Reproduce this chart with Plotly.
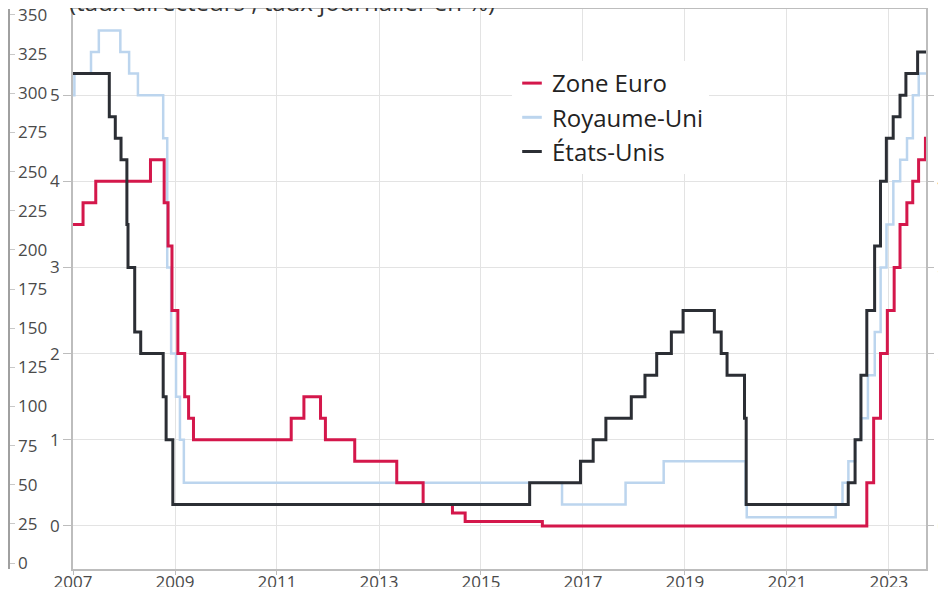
import plotly.graph_objects as go

# taux directeurs (en %), dates de changement
euro_dates = ["2007-01-01", "2007-03-14", "2007-06-13", "2008-07-09", "2008-10-15",
              "2008-11-12", "2008-12-10", "2009-01-21", "2009-03-11", "2009-04-08",
              "2009-05-13", "2011-04-13", "2011-07-13", "2011-11-09", "2011-12-14",
              "2012-07-11", "2013-05-08", "2013-11-13", "2014-06-11", "2014-09-10",
              "2016-03-16", "2022-07-27", "2022-09-14", "2022-11-02", "2022-12-21",
              "2023-02-08", "2023-03-22", "2023-05-10", "2023-06-21", "2023-08-02",
              "2023-09-20", "2023-09-24"]
euro_rate = [3.50, 3.75, 4.00, 4.25, 3.75, 3.25, 2.50, 2.00, 1.50, 1.25,
             1.00, 1.25, 1.50, 1.25, 1.00, 0.75, 0.50, 0.25, 0.15, 0.05,
             0.00, 0.50, 1.25, 2.00, 2.50, 3.00, 3.50, 3.75, 4.00, 4.25,
             4.50, 4.50]

uk_dates = ["2007-01-01", "2007-01-11", "2007-05-10", "2007-07-05", "2007-12-06",
            "2008-02-07", "2008-04-10", "2008-10-08", "2008-11-06", "2008-12-04",
            "2009-01-08", "2009-02-05", "2009-03-05", "2016-08-04", "2017-11-02",
            "2018-08-02", "2020-03-11", "2020-03-19", "2021-12-16", "2022-02-03",
            "2022-03-17", "2022-05-05", "2022-06-16", "2022-08-04", "2022-09-22",
            "2022-11-03", "2022-12-15", "2023-02-02", "2023-03-23", "2023-05-11",
            "2023-06-22", "2023-08-03", "2023-09-24"]
uk_rate = [5.00, 5.25, 5.50, 5.75, 5.50, 5.25, 5.00, 4.50, 3.00, 2.00,
           1.50, 1.00, 0.50, 0.25, 0.50, 0.75, 0.25, 0.10, 0.25, 0.50,
           0.75, 1.00, 1.25, 1.75, 2.25, 3.00, 3.50, 4.00, 4.25, 4.50,
           5.00, 5.25, 5.25]

us_dates = ["2007-01-01", "2007-09-18", "2007-10-31", "2007-12-11", "2008-01-22",
            "2008-01-30", "2008-03-18", "2008-04-30", "2008-10-08", "2008-10-29",
            "2008-12-16", "2015-12-16", "2016-12-14", "2017-03-15", "2017-06-14",
            "2017-12-13", "2018-03-21", "2018-06-13", "2018-09-26", "2018-12-19",
            "2019-07-31", "2019-09-18", "2019-10-30", "2020-03-03", "2020-03-15",
            "2022-03-16", "2022-05-04", "2022-06-15", "2022-07-27", "2022-09-21",
            "2022-11-02", "2022-12-14", "2023-02-01", "2023-03-22", "2023-05-03",
            "2023-07-26", "2023-09-24"]
us_rate = [5.25, 4.75, 4.50, 4.25, 3.50, 3.00, 2.25, 2.00, 1.50, 1.00,
           0.25, 0.50, 0.75, 1.00, 1.25, 1.50, 1.75, 2.00, 2.25, 2.50,
           2.25, 2.00, 1.75, 1.25, 0.25, 0.50, 1.00, 1.75, 2.50, 3.25,
           4.00, 4.50, 4.75, 5.00, 5.25, 5.50, 5.50]

left_ticks = [0, 25, 50, 75, 100, 125, 150, 175, 200, 225, 250, 275, 300, 325, 350]
rate_ticks = [0, 1, 2, 3, 4, 5]

RED = "#d4174b"
BLUE = "#bcd5ee"
DARK = "#2b2e34"
FONT = "Open Sans"
OFF = 8  # marge du body de la page html
W, H = 946 - OFF, 595 - 2 * OFF  # pas de barres de défilement

fig = go.Figure()
# dessin : RU dessous, puis zone euro, puis USA dessus
fig.add_trace(go.Scatter(x=uk_dates, y=uk_rate, mode="lines", line_shape="hv",
                         line=dict(color=BLUE, width=2.5), showlegend=False, hoverinfo="skip"))
fig.add_trace(go.Scatter(x=euro_dates, y=euro_rate, mode="lines", line_shape="hv",
                         line=dict(color=RED, width=3), showlegend=False, hoverinfo="skip"))
fig.add_trace(go.Scatter(x=us_dates, y=us_rate, mode="lines", line_shape="hv",
                         line=dict(color=DARK, width=3), showlegend=False, hoverinfo="skip"))

# entrées de légende (tiret court)
for name, col in [("Zone Euro", RED), ("Royaume-Uni", BLUE), ("États-Unis", DARK)]:
    fig.add_trace(go.Scatter(x=[None], y=[None], mode="markers", name=name,
                             legendgroup=name,
                             marker=dict(symbol="line-ew", size=14,
                                         line=dict(color=col, width=3))))

# axes secondaires : droite (0-5) et fantôme de gauche (0-350)
fig.add_trace(go.Scatter(x=[None], y=[None], yaxis="y2", showlegend=False))
fig.add_trace(go.Scatter(x=[None], y=[None], yaxis="y3", showlegend=False))

x0, x1 = (73 - OFF) / W, (926 - OFF) / W
top = 9 - OFF
plot_h = 560
grid = "#e3e3e3"
frame = "#bdbdbd"
tickfont = dict(family=FONT, size=17, color="#4a4a4a")

fig.update_layout(
    width=W, height=H,
    margin=dict(l=0, r=0, t=top, b=H - top - plot_h, autoexpand=False),
    paper_bgcolor="white", plot_bgcolor="white",
    font=dict(family=FONT),
    xaxis=dict(domain=[x0, x1], type="date",
               range=["2007-01-01", "2023-09-24"],
               tick0="2007-01-01", dtick="M24", tickformat="%Y",
               showgrid=True, gridcolor=grid, gridwidth=1,
               showline=True, linecolor=frame, linewidth=1.5, mirror=True,
               ticks="outside", ticklen=4, tickcolor=frame,
               ticklabelstandoff=-7, ticklabeloverflow="allow",
               tickfont=tickfont, zeroline=False, automargin=False),
    yaxis=dict(range=[-0.5, 6.0], tickvals=rate_ticks,
               showgrid=True, gridcolor=grid, gridwidth=1,
               showline=True, linecolor=frame, linewidth=1.5, mirror=True,
               ticks="outside", ticklen=8, tickcolor=frame,
               ticklabeloverflow="allow",
               tickfont=tickfont, zeroline=False, automargin=False),
    yaxis2=dict(range=[-0.5, 6.0], tickvals=rate_ticks, overlaying="y",
                side="right", anchor="free", position=x1,
                showgrid=False, showline=False,
                ticks="outside", ticklen=7, tickcolor=frame,
                ticklabeloverflow="allow",
                tickfont=tickfont, zeroline=False, automargin=False),
    yaxis3=dict(range=[-3.8, 353.8], tickvals=left_ticks, overlaying="y",
                side="right", anchor="free", position=0.001,
                showgrid=False, showline=True, linecolor="#a0a0a0", linewidth=1.5,
                ticks="outside", ticklen=5, tickcolor="#c8c8c8",
                ticklabeloverflow="allow",
                tickfont=tickfont, zeroline=False, automargin=False),
    legend=dict(x=(512 - OFF) / W, y=1 - 52 / plot_h, xanchor="left", yanchor="top",
                bgcolor="white", font=dict(family=FONT, size=24, color="#222"),
                traceorder="grouped", tracegroupgap=0, itemwidth=30),
    annotations=[dict(text="(taux directeurs , taux journalier en %)",
                      xref="paper", yref="paper", x=(67 - OFF) / W, y=1, yshift=-11,
                      xanchor="left", yanchor="bottom", showarrow=False,
                      font=dict(family=FONT, size=24, color="#333"))],
)

fig.write_html("out.html")
